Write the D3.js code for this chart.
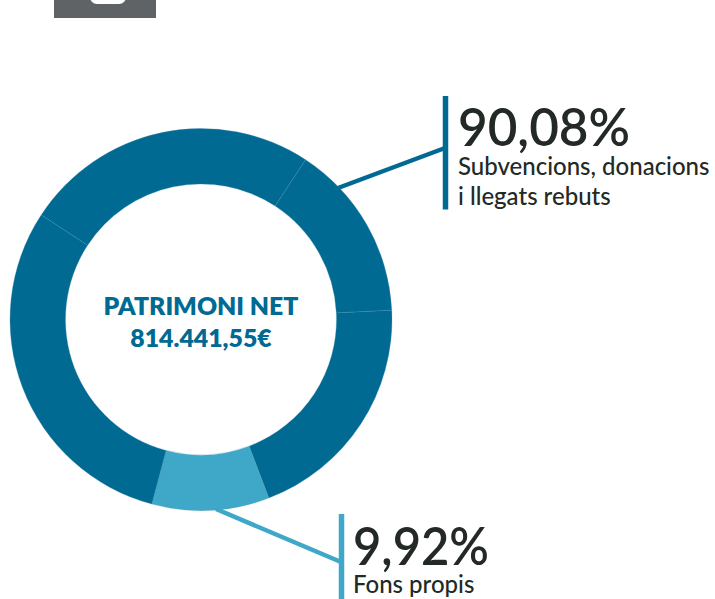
<!DOCTYPE html>
<html>
<head>
<meta charset="utf-8">
<script src="https://cdn.jsdelivr.net/npm/d3@7"></script>
<style>
  html, body { margin: 0; padding: 0; background: #fff; overflow: hidden; }
  text { font-family: Lato, "Noto Sans", sans-serif; }
  .big { font-size: 52px; font-weight: 600; fill: #232a26; }
  .sub { font-size: 24px; font-weight: 500; fill: #232a26; }
  .center { font-size: 24.8px; font-weight: 800; fill: #016a93; text-anchor: middle; }
</style>
</head>
<body>
<svg id="chart" width="715" height="599"></svg>
<script>
// slices, clockwise from the top left separator
const sliceNames = ['Subvencions 1', 'Subvencions 2', 'Subvencions 3', 'Fons propis', 'Subvencions 4'];
const sliceValues = [25.0, 15.0, 20.0, 9.92, 30.08];
const sliceColors = ['#016a93', '#016a93', '#016a93', '#3fa8c8', '#016a93'];

const centerLines = ['PATRIMONI NET', '814.441,55€'];
const bigLabels = ['90,08%', '9,92%'];
const subLabels = [['Subvencions, donacions', 'i llegats rebuts'], ['Fons propis']];

const svg = d3.select('#chart');

const cx = 201, cy = 319.5, outerR = 191, innerR = 135.5;
const startAngle = -56.8 * Math.PI / 180;

// grey tab cut off at the top of the page
svg.append('rect')
  .attr('x', 54).attr('y', -10)
  .attr('width', 102).attr('height', 28)
  .attr('fill', '#5f6366');
svg.append('rect')
  .attr('x', 90).attr('y', -20)
  .attr('width', 36).attr('height', 24)
  .attr('rx', 7)
  .attr('fill', '#fff');

// leader lines go under the ring
const leaders = svg.append('g');
leaders.append('line')
  .attr('x1', 338).attr('y1', 188)
  .attr('x2', 445).attr('y2', 148)
  .attr('stroke', '#016a93').attr('stroke-width', 4.5);
leaders.append('line')
  .attr('x1', 445.5).attr('y1', 96)
  .attr('x2', 445.5).attr('y2', 209.5)
  .attr('stroke', '#016a93').attr('stroke-width', 5.5);
leaders.append('line')
  .attr('x1', 216).attr('y1', 509)
  .attr('x2', 341).attr('y2', 562)
  .attr('stroke', '#3fa8c8').attr('stroke-width', 4.5);
leaders.append('line')
  .attr('x1', 341.5).attr('y1', 514)
  .attr('x2', 341.5).attr('y2', 599)
  .attr('stroke', '#3fa8c8').attr('stroke-width', 5.5);

const pie = d3.pie()
  .sort(null)
  .startAngle(startAngle)
  .endAngle(startAngle + 2 * Math.PI);

const arc = d3.arc().innerRadius(innerR).outerRadius(outerR);

svg.append('g')
  .attr('transform', 'translate(' + cx + ',' + cy + ')')
  .selectAll('path')
  .data(pie(sliceValues))
  .enter()
  .append('path')
  .attr('d', arc)
  .attr('fill', (d, i) => sliceColors[i])
  .attr('stroke', '#3f8fae')
  .attr('stroke-width', 0.3);

// labels
svg.selectAll('.center')
  .data(centerLines)
  .enter()
  .append('text')
  .attr('class', 'center')
  .attr('x', cx)
  .attr('y', (d, i) => 315 + i * 32)
  .text(d => d);

const bigPos = [[458, 146, 172], [353, 565, 136]];
svg.selectAll('.big')
  .data(bigLabels)
  .enter()
  .append('text')
  .attr('class', 'big')
  .attr('x', (d, i) => bigPos[i][0])
  .attr('y', (d, i) => bigPos[i][1])
  .attr('textLength', (d, i) => bigPos[i][2])
  .attr('lengthAdjust', 'spacingAndGlyphs')
  .text(d => d);

const subPos = [[458, 175], [353, 593]];
subLabels.forEach((lines, k) => {
  lines.forEach((line, i) => {
    svg.append('text')
      .attr('class', 'sub')
      .attr('x', subPos[k][0])
      .attr('y', subPos[k][1] + i * 30)
      .text(line);
  });
});
</script>
</body>
</html>
